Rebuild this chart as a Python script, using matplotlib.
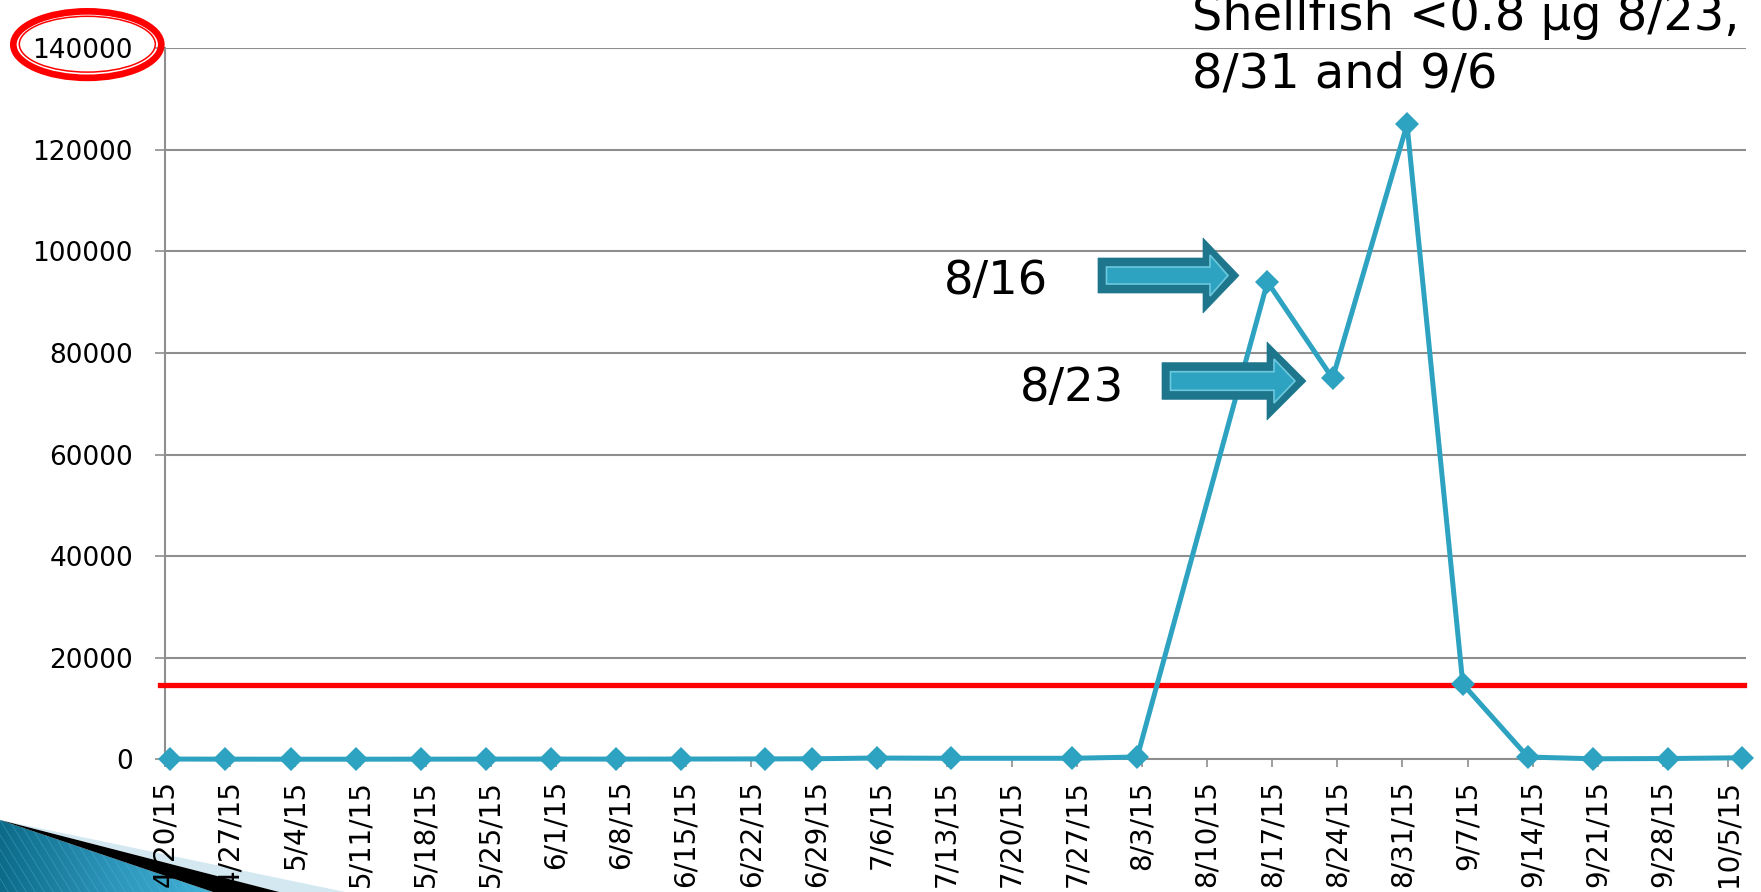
import matplotlib
matplotlib.use("Agg")
import matplotlib.pyplot as plt
import matplotlib.dates as mdates
from matplotlib.patches import Ellipse, Polygon
from matplotlib.colors import LinearSegmentedColormap
from matplotlib.transforms import ScaledTranslation
import numpy as np
import datetime as dt

# ---------------- data ----------------
sample_dates = ["2015-04-21", "2015-04-27", "2015-05-04", "2015-05-11", "2015-05-18",
                "2015-05-25", "2015-06-01", "2015-06-08", "2015-06-15", "2015-06-24",
                "2015-06-29", "2015-07-06", "2015-07-14", "2015-07-27", "2015-08-03",
                "2015-08-17", "2015-08-24", "2015-09-01", "2015-09-07", "2015-09-14",
                "2015-09-21", "2015-09-29", "2015-10-07"]
cell_counts = [50, 30, 20, 20, 30, 40, 50, 40, 50, 80,
               100, 250, 200, 200, 450,
               94000, 75000, 125000, 14800, 450,
               100, 150, 300]
threshold = 14700

tick_dates = ["2015-04-20", "2015-04-27", "2015-05-04", "2015-05-11", "2015-05-18",
              "2015-05-25", "2015-06-01", "2015-06-08", "2015-06-15", "2015-06-22",
              "2015-06-29", "2015-07-06", "2015-07-13", "2015-07-20", "2015-07-27",
              "2015-08-03", "2015-08-10", "2015-08-17", "2015-08-24", "2015-08-31",
              "2015-09-07", "2015-09-14", "2015-09-21", "2015-09-28", "2015-10-05"]
tick_labels = ["4/20/15", "4/27/15", "5/4/15", "5/11/15", "5/18/15", "5/25/15",
               "6/1/15", "6/8/15", "6/15/15", "6/22/15", "6/29/15", "7/6/15",
               "7/13/15", "7/20/15", "7/27/15", "8/3/15", "8/10/15", "8/17/15",
               "8/24/15", "8/31/15", "9/7/15", "9/14/15", "9/21/15", "9/28/15",
               "10/5/15"]
y_ticks = [0, 20000, 40000, 60000, 80000, 100000, 120000, 140000]
y_labels = ["0", "20000", "40000", "60000", "80000", "100000", "120000", "140000"]
title_lines = ["Shellfish <0.8 \u00b5g 8/23,", "8/31 and 9/6"]
arrow_labels = ["8/16", "8/23"]

# ---------------- figure ----------------
W, H = 1761, 892
fig = plt.figure(figsize=(W / 100, H / 100), dpi=100)
fig.patch.set_facecolor("white")

ax_left, ax_right, ax_top, ax_bottom = 165, 1746, 48.3, 759.3
ax = fig.add_axes([ax_left / W, 1 - ax_bottom / H,
                   (ax_right - ax_left) / W, (ax_bottom - ax_top) / H], zorder=2)
ax.set_facecolor("none")

x = mdates.date2num([dt.datetime.strptime(d, "%Y-%m-%d") for d in sample_dates])
tx = mdates.date2num([dt.datetime.strptime(d, "%Y-%m-%d") for d in tick_dates]) + 0.5

grey = "#8e8e8e"
teal = "#2ea3c1"

ax.axhline(threshold, xmin=-0.003, xmax=0.9985, color="#ff0000", lw=3.8,
           clip_on=False, zorder=3)
ax.plot(x, cell_counts, color=teal, lw=3.6, marker="D", ms=12, mew=0,
        clip_on=False, zorder=4)

px_per_day = (1728 - 165) / 168.0
ax.set_xlim(tx[0], tx[0] + (ax_right - ax_left) / px_per_day)
ax.set_ylim(0, 140000)

ax.set_xticks(tx)
ax.set_xticklabels(tick_labels, rotation=90, fontsize=20)
ax.set_yticks(y_ticks)
ax.set_yticklabels(y_labels, fontsize=19)
shift = ScaledTranslation(0, 3 / 100, fig.dpi_scale_trans)
for lab in ax.get_yticklabels():
    lab.set_transform(lab.get_transform() + shift)
xshift = ScaledTranslation(3 / 100, -3 / 100, fig.dpi_scale_trans)
for lab in ax.get_xticklabels():
    lab.set_transform(lab.get_transform() + xshift)

ax.yaxis.grid(True, color=grey, lw=1.5)
ax.set_axisbelow(True)
for s in ["top", "right"]:
    ax.spines[s].set_visible(False)
for s in ["left", "bottom"]:
    ax.spines[s].set_color(grey)
    ax.spines[s].set_linewidth(1.5)
ax.tick_params(axis="y", direction="out", length=7, width=1.2, color=grey, pad=16)
ax.tick_params(axis="x", direction="out", length=6, width=1.2, color=grey, pad=9)

# ---------------- bottom-left decoration (under) ----------------
deco = fig.add_axes([0, 0, 1, 1], zorder=-1)
deco.axis("off")
light = Polygon([(0, 820), (350, 893), (283, 893)], closed=True,
                facecolor="#d3e8f0", edgecolor="none")
deco.add_patch(light)
black = Polygon([(0, 820), (283, 893), (216, 893)], closed=True,
                facecolor="black", edgecolor="none")
deco.add_patch(black)
blue_poly = Polygon([(0, 820), (216, 893), (0, 893)], closed=True,
                    facecolor="none", edgecolor="none")
deco.add_patch(blue_poly)
cmap = LinearSegmentedColormap.from_list("bl", ["#0d6b88", "#2b93b8", "#45b3d8"])
grad = np.linspace(0, 1, 256)[None, :].repeat(8, axis=0)
im = deco.imshow(grad, extent=(0, 216, 893, 820), cmap=cmap, aspect="auto",
                 clip_path=blue_poly, interpolation="bilinear")
for k in range(-10, 30):
    xs = np.array([k * 9.0, k * 9.0 + 45])
    ys = np.array([820, 893])
    ln, = deco.plot(xs, ys, color="#5fc0e0", lw=0.6, alpha=0.35)
    ln.set_clip_path(blue_poly)
deco.set_xlim(0, W)
deco.set_ylim(H, 0)

# ---------------- overlay (arrows, labels, ellipse) ----------------
ov = fig.add_axes([0, 0, 1, 1], zorder=5)
ov.set_facecolor("none")
ov.axis("off")
ov.set_xlim(0, W)
ov.set_ylim(H, 0)


def block_arrow(x0, xb, xt, yc, bh, hh):
    return [(x0, yc - bh / 2), (xb, yc - bh / 2), (xb, yc - hh / 2), (xt, yc),
            (xb, yc + hh / 2), (xb, yc + bh / 2), (x0, yc + bh / 2)]


dark = "#1e768c"
for (x0, xb, xt, yc, bh, hh) in [(1098, 1203, 1239, 275.5, 35, 75),
                                 (1162, 1267, 1306, 381, 36.6, 78)]:
    ov.add_patch(Polygon(block_arrow(x0, xb, xt, yc, bh, hh), closed=True,
                         facecolor=dark, edgecolor=dark, lw=0.5))
    ov.add_patch(Polygon(block_arrow(x0 + 8.5, xb + 7, xt - 11, yc, bh - 18, hh - 34),
                         closed=True, facecolor=teal, edgecolor="#6cc8de", lw=1.2))

ov.text(944, 294, arrow_labels[0], fontsize=33.5, va="baseline", ha="left", color="black")
ov.text(1020, 401, arrow_labels[1], fontsize=33.5, va="baseline", ha="left", color="black")

ov.text(1192, 30, title_lines[0], fontsize=34.5, va="baseline", ha="left", color="black")
ov.text(1192, 87.6, title_lines[1], fontsize=34.5, va="baseline", ha="left", color="black")

ov.add_patch(Ellipse((87.3, 44.6), 148, 66.5, facecolor="none", edgecolor="#ff0000", lw=4.8))
ov.add_patch(Ellipse((87.3, 44.2), 136, 55.8, facecolor="none", edgecolor="#ff0000", lw=1.1))

fig.savefig("out.png", dpi=100)
